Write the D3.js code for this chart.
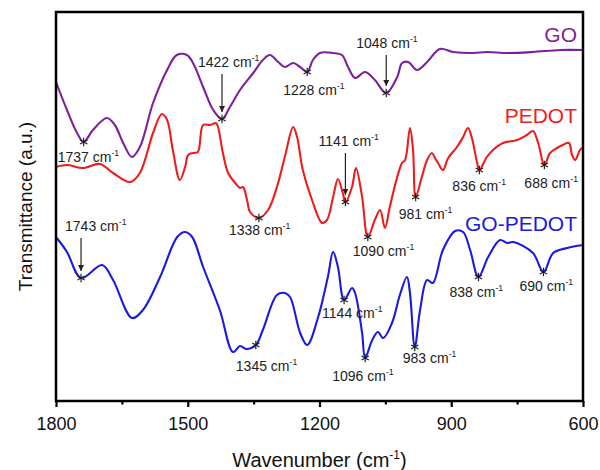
<!DOCTYPE html>
<meta charset="utf-8">
<style>
body { margin: 0; background: #fff; }
svg { font-family: "Liberation Sans", Arial, sans-serif; }
.series-line { fill: none; stroke-width: 2.1; stroke-linejoin: round; }
.peak-label { font-size: 14px; fill: #222; }
.tick-lab { font-size: 18px; fill: #111; }
</style>
<svg width="600" height="470"></svg>
<script src="https://d3js.org/d3.v7.min.js"></script>
<script>

// wavenumber (cm-1), transmittance (a.u., offset per curve)
var goData = [[1800,319],[1775,291],[1752,268],[1737,259],[1716,271],[1684,283],[1666,276],[1647,258],[1627,244],[1609,254],
  [1579,298],[1547,331],[1525,346],[1502,346],[1488,338],[1465,314],[1442,291],[1422,282],[1404,294],[1381,311],
  [1351,328],[1329,341],[1313,346],[1294,339],[1279,334],[1260,338],[1244,334],[1228,329],[1215,341],[1199,348],
  [1169,348],[1149,346],[1135,334],[1119,323],[1096,329],[1074,321],[1048,308],[1023,324],[1012,338],[998,339],
  [978,331],[955,339],[926,352],[896,349],[850,348],[819,349],[773,348],[714,349],[652,351],[600,351]];

var pedotData = [[1800,234],[1775,236],[1739,233],[1700,237],[1670,228],[1631,219],[1609,228],[1579,268],[1559,287],[1547,281],
  [1534,251],[1518,221],[1506,234],[1499,246],[1488,248],[1477,249],[1465,276],[1449,276],[1436,278],[1431,274],
  [1420,248],[1408,228],[1392,218],[1381,213],[1374,214],[1365,201],[1358,189],[1338,183],[1317,191],[1297,214],
  [1279,244],[1260,274],[1251,264],[1238,231],[1217,201],[1194,178],[1183,181],[1169,204],[1158,222],[1147,208],
  [1141,199],[1126,214],[1117,233],[1103,204],[1090,164],[1074,181],[1062,191],[1051,173],[1040,194],[1023,224],
  [1012,238],[1005,241],[994,273],[987,251],[981,204],[967,224],[955,241],[944,248],[937,243],[930,238],
  [919,231],[907,243],[887,254],[873,264],[862,273],[853,263],[841,238],[836,231],[819,244],[805,251],
  [782,258],[750,261],[728,266],[714,270],[702,258],[688,236],[675,248],[659,253],[646,256],[632,258],
  [625,246],[618,241],[607,251],[600,254]];

var goPedotData = [[1800,164],[1775,149],[1743,123],[1695,136],[1670,121],[1627,83],[1602,91],[1563,124],[1524,164],[1506,169],
  [1490,164],[1465,134],[1427,91],[1397,49],[1381,55],[1367,52],[1345,56],[1329,71],[1297,106],[1279,108],
  [1267,104],[1244,68],[1228,56],[1203,84],[1181,124],[1169,149],[1158,134],[1144,101],[1126,113],[1119,108],
  [1103,68],[1096,43],[1080,61],[1067,69],[1055,63],[1035,78],[1017,106],[1001,124],[994,108],[983,54],
  [971,91],[955,121],[942,118],[919,151],[891,170],[873,169],[857,151],[838,124],[816,144],[789,161],
  [773,158],[759,159],[714,148],[690,129],[668,148],[636,153],[600,156]];

var goPeaks = [1737, 1422, 1228, 1048];
var pedotPeaks = [1338, 1141, 1090, 981, 836, 688];
var goPedotPeaks = [1743, 1345, 1144, 1096, 983, 838, 690];

var majorTicks = [1800, 1500, 1200, 900, 600];
var minorTicks = [1650, 1350, 1050, 750];

// label offsets from the star: [dx, dy(baseline), arrow?]
var peakLayout = {
  "GO-1737": [-26, 20], "GO-1422": [-24, -52, true], "GO-1228": [-24, 23], "GO-1048": [-30, -45, true],
  "PEDOT-1338": [-30, 17], "PEDOT-1141": [-27, -56, true], "PEDOT-1090": [-15, 19], "PEDOT-981": [-17, 22],
  "PEDOT-836": [-27, 21], "PEDOT-688": [-20, 23],
  "GOP-1743": [-16, -47, true], "GOP-1345": [-20, 26], "GOP-1144": [-22, 18], "GOP-1096": [-33, 23],
  "GOP-983": [-12, 16], "GOP-838": [-29, 20], "GOP-690": [-24, 19]
};

var series = [
  {key: "GO", name: "GO", data: goData, peaks: goPeaks, color: "#7e1f9c", labelY: 42},
  {key: "PEDOT", name: "PEDOT", data: pedotData, peaks: pedotPeaks, color: "#ee1c1c", labelY: 123},
  {key: "GOP", name: "GO-PEDOT", data: goPedotData, peaks: goPedotPeaks, color: "#1a1ae0", labelY: 231}
];

var svg = d3.select("svg"),
    margin = {top: 12, right: 17, bottom: 69, left: 56},
    width = +svg.attr("width") - margin.left - margin.right,
    height = +svg.attr("height") - margin.top - margin.bottom;

var x = d3.scaleLinear().domain([1800, 600]).range([margin.left, margin.left + width]);
var y = d3.scaleLinear().domain([0, 389]).range([margin.top + height, margin.top]);

var defs = svg.append("defs");
defs.append("marker")
    .attr("id", "arrow")
    .attr("viewBox", "0 0 10 10")
    .attr("refX", 10).attr("refY", 5)
    .attr("markerWidth", 8).attr("markerHeight", 6)
    .attr("markerUnits", "userSpaceOnUse")
    .attr("orient", "auto")
  .append("path")
    .attr("d", "M0,0L10,5L0,10Z")
    .attr("fill", "#222");

var line = d3.line()
    .x(function(d) { return x(d[0]); })
    .y(function(d) { return y(d[1]); })
    .curve(d3.curveCatmullRom.alpha(0.5));

function valueAt(data, wn) {
  for (var i = 0; i < data.length - 1; i++) {
    var a = data[i], b = data[i + 1];
    if (wn <= a[0] && wn >= b[0]) {
      var t = (a[0] - wn) / (a[0] - b[0]);
      return a[1] + t * (b[1] - a[1]);
    }
  }
  return data[data.length - 1][1];
}

function addCm(sel, size) {
  sel.append("tspan").text(" cm");
  sel.append("tspan").attr("dy", -size * 0.42).attr("font-size", size * 0.62).text("-1");
}

series.forEach(function(s) {
  svg.append("path")
      .datum(s.data)
      .attr("class", "series-line")
      .attr("stroke", s.color)
      .attr("d", line);

  svg.append("text")
      .attr("x", 577).attr("y", s.labelY)
      .attr("text-anchor", "end")
      .attr("font-size", 21)
      .attr("fill", s.color)
      .text(s.name);

  s.peaks.forEach(function(p) {
    var sx = x(p), sy = y(valueAt(s.data, p));
    var lay = peakLayout[s.key + "-" + p];
    var g = svg.append("g");
    // asterisk marker
    var r = 4.2, path = "";
    [90, 30, 150].forEach(function(a) {
      var rad = a * Math.PI / 180, cx = Math.cos(rad) * r, cy = Math.sin(rad) * r;
      path += "M" + (sx - cx) + "," + (sy - cy) + "L" + (sx + cx) + "," + (sy + cy);
    });
    g.append("path").attr("d", path).attr("stroke", "#222").attr("stroke-width", 1.2);

    var t = g.append("text")
        .attr("class", "peak-label")
        .attr("x", sx + lay[0]).attr("y", sy + lay[1]);
    t.append("tspan").text(p);
    addCm(t, 14);

    if (lay[2]) {
      g.append("line")
          .attr("x1", sx).attr("x2", sx)
          .attr("y1", sy + lay[1] + 7).attr("y2", sy - 7)
          .attr("stroke", "#222").attr("stroke-width", 1.2)
          .attr("marker-end", "url(#arrow)");
    }
  });
});

// frame
svg.append("rect")
    .attr("x", margin.left).attr("y", margin.top)
    .attr("width", width).attr("height", height)
    .attr("fill", "none").attr("stroke", "#000").attr("stroke-width", 2.5);

var xAxis = svg.append("g")
    .attr("transform", "translate(0," + (margin.top + height) + ")")
    .call(d3.axisBottom(x).tickValues(majorTicks).tickSize(6).tickPadding(10).tickFormat(d3.format("d")));
xAxis.select(".domain").remove();
xAxis.selectAll(".tick line").attr("stroke-width", 2.2);
xAxis.selectAll(".tick text").attr("class", "tick-lab").attr("font-size", null).attr("font-family", null);

var xMinor = svg.append("g")
    .attr("transform", "translate(0," + (margin.top + height) + ")")
    .call(d3.axisBottom(x).tickValues(minorTicks).tickSize(3.5).tickFormat(""));
xMinor.select(".domain").remove();
xMinor.selectAll(".tick line").attr("stroke-width", 2.2);

// axis titles
var xt = svg.append("text")
    .attr("x", margin.left + width / 2).attr("y", 467)
    .attr("text-anchor", "middle")
    .attr("font-size", 20).attr("fill", "#111");
xt.append("tspan").text("Wavenumber (cm");
xt.append("tspan").attr("dy", -8).attr("font-size", 12).text("-1");
xt.append("tspan").attr("dy", 8).text(")");

svg.append("text")
    .attr("transform", "translate(32," + (margin.top + height / 2) + ") rotate(-90)")
    .attr("text-anchor", "middle")
    .attr("font-size", 19).attr("fill", "#111")
    .text("Transmittance (a.u.)");

</script>
